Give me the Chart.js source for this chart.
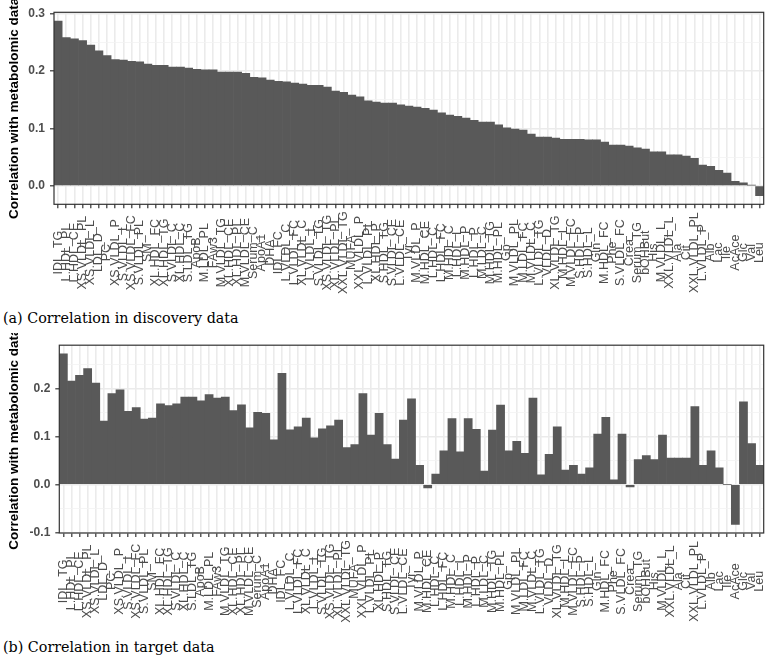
<!DOCTYPE html>
<html>
<head>
<meta charset="utf-8">
<script src="https://cdn.jsdelivr.net/npm/chart.js@4.4.1/dist/chart.umd.min.js"></script>
<style>
  html, body { margin: 0; padding: 0; background: #fff; }
  body { position: relative; width: 765px; height: 659px; overflow: hidden; }
  .panel { position: absolute; left: 0; width: 765px; height: 300px; }
  .caption { position: absolute; left: 3px; font-family: "DejaVu Serif", "Liberation Serif", serif; font-size: 14.3px;
             color: #000; white-space: nowrap; line-height: 16px; }
</style>
</head>
<body>
<div class="panel" style="top:0px"><canvas id="discovery" width="765" height="300"></canvas></div>
<div class="caption" style="top:310px">(a) Correlation in discovery data</div>
<div class="panel" style="top:333px"><canvas id="target" width="765" height="300"></canvas></div>
<div class="caption" style="top:639px">(b) Correlation in target data</div>

<script>
// Metabolite measures, ordered by their correlation in the discovery data
const metabolites = [
  'IDL_TG', 'L.HDL_PL', 'L.HDL_CE', 'XS.VLDL_PL', 'XS.VLDL_L', 'LDL_D', 'PC', 'XS.VLDL_P', 'S.VLDL_L', 'XS.VLDL_FC',
  'S.VLDL_PL', 'SM', 'XL.HDL_FC', 'XL.HDL_TG', 'S.VLDL_C', 'XL.HDL_C', 'S.LDL_TG', 'ApoB', 'M.LDL_PL', 'FAw3',
  'M.VLDL_TG', 'XL.HDL_CE', 'XL.HDL_PL', 'M.VLDL_CE', 'Serum_C', 'ApoA1', 'DHA', 'IDL_FC', 'L.VLDL_C', 'L.VLDL_FC',
  'XL.VLDL_C', 'L.VLDL_L', 'S.VLDL_TG', 'XS.VLDL_TG', 'XL.VLDL_PL', 'XXL.VLDL_TG', 'MUFA', 'XXL.VLDL_P', 'L.VLDL_PL', 'XL.HDL_P',
  'S.HDL_TG', 'S.VLDL_CE', 'L.VLDL_CE', 'Tyr', 'M.VLDL_P', 'M.HDL_CE', 'L.HDL_C', 'L.HDL_FC', 'M.HDL_C', 'L.HDL_L',
  'M.HDL_P', 'L.HDL_P', 'M.LDL_C', 'M.HDL_TG', 'M.HDL_PL', 'Gp', 'M.VLDL_PL', 'M.LDL_FC', 'M.VLDL_C', 'L.VLDL_TG',
  'VLDL_D', 'XL.VLDL_TG', 'M.HDL_L', 'M.VLDL_FC', 'S.HDL_P', 'S.HDL_L', 'Gln', 'M.HDL_FC', 'Phe', 'S.VLDL_FC',
  'Crea', 'Serum_TG', 'bOHBut', 'His', 'M.VLDL_L', 'XXL.VLDL_L', 'Ala', 'Cit', 'XXL.VLDL_PL', 'L.VLDL_P',
  'Alb', 'Lac', 'Ile', 'AcAce', 'Glc', 'Val', 'Leu'
];

// (a) correlation in the discovery data
const discoveryCorr = [
  0.287, 0.258, 0.256, 0.253, 0.245, 0.235, 0.227, 0.220, 0.219, 0.217,
  0.216, 0.212, 0.210, 0.210, 0.207, 0.207, 0.205, 0.203, 0.202, 0.202,
  0.198, 0.198, 0.198, 0.196, 0.189, 0.188, 0.184, 0.182, 0.181, 0.179,
  0.177, 0.175, 0.175, 0.172, 0.165, 0.163, 0.158, 0.155, 0.148, 0.146,
  0.144, 0.144, 0.141, 0.139, 0.137, 0.135, 0.132, 0.127, 0.123, 0.121,
  0.118, 0.114, 0.111, 0.111, 0.106, 0.101, 0.099, 0.097, 0.090, 0.085,
  0.085, 0.083, 0.081, 0.081, 0.081, 0.080, 0.080, 0.076, 0.071, 0.071,
  0.069, 0.066, 0.064, 0.059, 0.059, 0.054, 0.054, 0.052, 0.048, 0.036,
  0.034, 0.027, 0.022, 0.008, 0.005, 0.001, -0.017
];

// (b) correlation in the target data
const targetCorr = [
  0.272, 0.215, 0.227, 0.241, 0.211, 0.132, 0.189, 0.197, 0.152, 0.160,
  0.136, 0.138, 0.168, 0.164, 0.168, 0.182, 0.182, 0.174, 0.187, 0.180,
  0.182, 0.154, 0.166, 0.118, 0.150, 0.148, 0.093, 0.231, 0.114, 0.120,
  0.138, 0.097, 0.116, 0.122, 0.134, 0.077, 0.083, 0.189, 0.103, 0.148,
  0.083, 0.053, 0.134, 0.178, 0.040, -0.007, 0.022, 0.070, 0.137, 0.068,
  0.137, 0.115, 0.028, 0.113, 0.165, 0.070, 0.090, 0.065, 0.180, 0.020,
  0.063, 0.120, 0.030, 0.040, 0.022, 0.035, 0.105, 0.140, 0.010, 0.105,
  -0.005, 0.052, 0.060, 0.052, 0.103, 0.055, 0.055, 0.055, 0.162, 0.040,
  0.070, 0.035, 0.000, -0.083, 0.172, 0.085, 0.040
];

const yAxisTitle = 'Correlation with metabolomic data';

const BAR = '#595959';
const GRID = '#EBEBEB';
const GRID_MINOR = '#F2F2F2';
const INK = '#333333';
const TICK_TEXT = '#4D4D4D';

// Bars always include zero; the value axis is padded by 5% on each side
function valueRange(values) {
  const lo = Math.min(0, ...values);
  const hi = Math.max(0, ...values);
  const pad = (hi - lo) * 0.05;
  return { min: lo - pad, max: hi + pad };
}

const isMajor = v => Math.abs(v * 10 - Math.round(v * 10)) < 1e-6;

// Panel frame, centred vertical category labels and the y-axis title
const panelDecor = {
  id: 'panelDecor',
  afterDraw(chart) {
    const { ctx, chartArea: a } = chart;
    const xs = chart.scales.x;

    ctx.save();
    ctx.strokeStyle = INK;
    ctx.lineWidth = 1.2;
    ctx.strokeRect(a.left, a.top, a.right - a.left, a.bottom - a.top);

    ctx.font = '12.5px "Liberation Sans", Arial, sans-serif';
    ctx.fillStyle = TICK_TEXT;
    let longest = 0;
    metabolites.forEach(m => { longest = Math.max(longest, ctx.measureText(m).width); });
    const mid = a.bottom + 7 + longest / 2;
    ctx.textAlign = 'center';
    ctx.textBaseline = 'middle';
    metabolites.forEach((m, i) => {
      ctx.save();
      ctx.translate(xs.getPixelForTick(i), mid);
      ctx.rotate(-Math.PI / 2);
      ctx.fillText(m, 0, 0);
      ctx.restore();
    });

    ctx.font = 'bold 13.5px "Liberation Sans", Arial, sans-serif';
    ctx.fillStyle = '#000';
    ctx.translate(14, (a.top + a.bottom) / 2);
    ctx.rotate(-Math.PI / 2);
    ctx.fillText(yAxisTitle, 0, 0);
    ctx.restore();
  }
};

function makePanel(canvasId, values, pad, yWidth, xHeight) {
  const range = valueRange(values);
  return new Chart(document.getElementById(canvasId), {
    type: 'bar',
    data: {
      labels: metabolites,
      datasets: [{
        data: values,
        backgroundColor: BAR,
        borderWidth: 0,
        barPercentage: 1,
        categoryPercentage: 1
      }]
    },
    options: {
      responsive: false,
      animation: false,
      events: [],
      layout: { padding: pad },
      plugins: { legend: { display: false }, tooltip: { enabled: false } },
      scales: {
        x: {
          offset: true,
          border: { display: false },
          grid: {
            offset: false,
            color: GRID,
            lineWidth: 1.6,
            drawTicks: true,
            tickLength: 4,
            tickColor: INK,
            tickWidth: 1.2
          },
          ticks: { display: false, autoSkip: false },
          afterFit(scale) { scale.height = xHeight; }
        },
        y: {
          min: range.min,
          max: range.max,
          border: { display: false },
          grid: {
            color: c => isMajor(c.tick.value) ? GRID : GRID_MINOR,
            lineWidth: c => isMajor(c.tick.value) ? 1.6 : 0.8,
            drawTicks: true,
            tickLength: 4,
            tickColor: c => isMajor(c.tick.value) ? INK : 'rgba(0,0,0,0)',
            tickWidth: 1.2
          },
          ticks: {
            stepSize: 0.05,
            includeBounds: false,
            padding: 5,
            color: TICK_TEXT,
            font: { family: '"Liberation Sans", Arial, sans-serif', size: 12, weight: 'bold' },
            callback: v => isMajor(v) ? (Math.round(v * 10) / 10).toFixed(1) : ''
          },
          afterFit(scale) { scale.width = yWidth; }
        }
      }
    },
    plugins: [panelDecor]
  });
}

makePanel('discovery', discoveryCorr, { left: 0, top: 12.3, right: 1.3, bottom: 0 }, 54, 95.7);
makePanel('target', targetCorr, { left: 0, top: 7, right: 1.3, bottom: 0 }, 59.3, 100);
</script>
</body>
</html>
